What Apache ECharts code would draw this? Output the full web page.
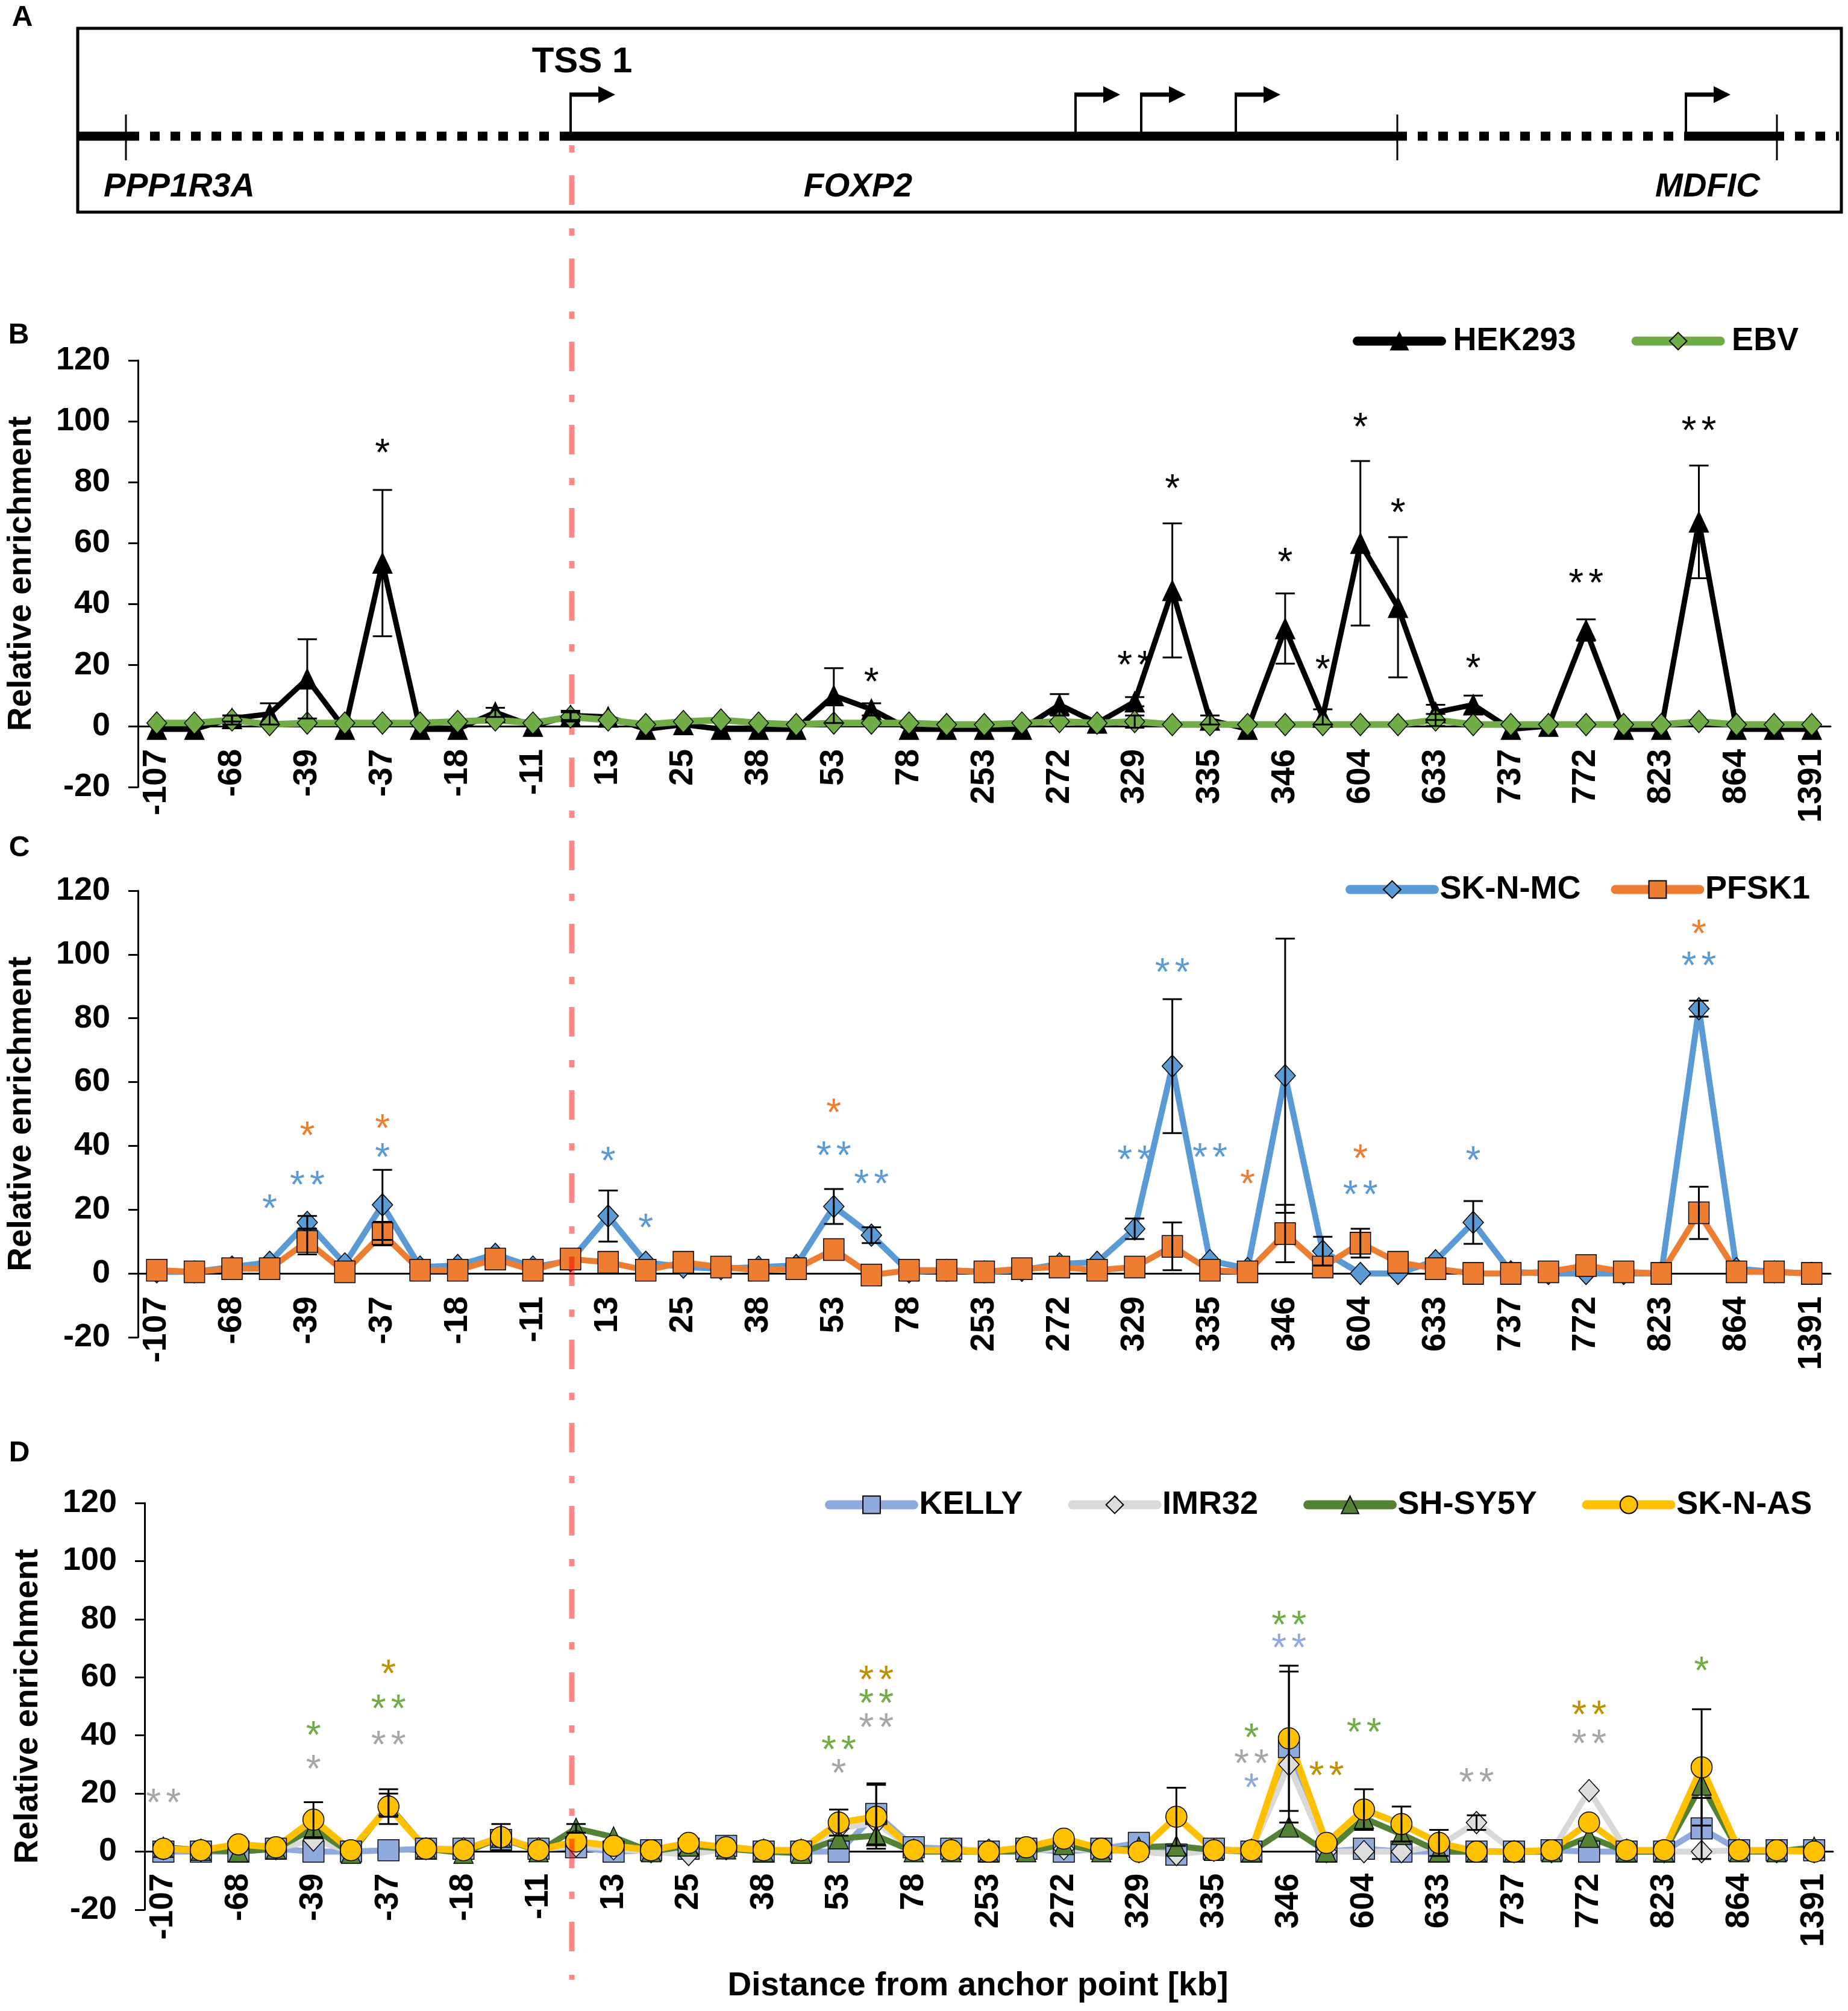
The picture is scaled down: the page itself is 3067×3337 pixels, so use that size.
<!DOCTYPE html>
<html>
<head>
<meta charset="utf-8">
<script src="https://cdn.jsdelivr.net/npm/echarts@6.0.0/dist/echarts.min.js"></script>
<style>
html, body { margin: 0; padding: 0; background: #fff; }
#chart { width: 3067px; height: 3337px; }
</style>
</head>
<body>
<div id="chart"></div>
<script>
// distance from anchor point [kb]; every other label is hidden on the axis
var categories = ['-107', '', '-68', '', '-39', '', '-37', '', '-18', '', '-11', '',
    '13', '', '25', '', '38', '', '53', '', '78', '', '253', '', '272', '', '329', '',
    '335', '', '346', '', '604', '', '633', '', '737', '', '772', '', '823', '', '864', '', '1391'];
var yTicks = { min: -20, max: 120, step: 20 };

// panel B
var hek293 = [-1, -1, 2.5, 4, 15.5, -1, 53.5, -1, -1, 4.5, 0, 3.5, 3, -1, 0.5, -1, -1, -1, 10, 5.5, -1,
    -1, -1, -1, 7, 1, 8, 44.5, 2, -1, 32, 3, 60, 39, 4.5, 7, -1, 0, 31.5, -1, -1, 67, -1, -1, -1];
var hek293Err = [0, 0, 1, 3.5, 13, 0, 24, 0, 0, 1.5, 0, 1.5, 0, 0, 0, 0, 0, 0, 9, 2, 0,
    0, 0, 0, 3.5, 0, 1.5, 22, 1.5, 0, 11.5, 2.5, 27, 23, 2.5, 3, 0, 0, 3.5, 0, 0, 18.5, 0, 0, 0];
var ebv = [1, 1, 2, 0.5, 1, 1, 1, 1, 1.5, 2, 1, 3, 2, 0.5, 1.5, 2, 1, 0.5, 1, 1, 1,
    0.5, 0.5, 1, 1.5, 1, 1.5, 0.5, 0.5, 0.5, 0.5, 0.5, 0.5, 0.5, 2, 0.5, 0.5, 0.5, 0.5, 0.5, 0.5, 1.5, 0.5, 0.5, 0.5];
var ebvErr = [0, 0, 1.5, 0, 0, 0, 0, 0, 0, 0, 0, 1.5, 0, 0, 0, 0, 0, 0, 0, 0, 0,
    0, 0, 0, 0, 0, 2, 0, 0, 0, 0, 0, 0, 0, 2, 0, 0, 0, 0, 0, 0, 0, 0, 0, 0];

// panel C
var sknmc = [0.5, 0.5, 2, 3.5, 16, 3, 21.5, 2, 2.5, 6, 2, 4, 18, 3.5, 2, 1.5, 2, 2.5, 21, 12, 0.5,
    1, 0.5, 1, 3, 3.5, 14, 65, 4, 1.5, 62, 7, 0, 0, 4, 16, 0.5, 0, 0, 0, 0, 83, 1.5, 0.5, 0];
var sknmcErr = [0, 0, 0, 0, 2, 0, 11, 0, 0, 0, 0, 0, 8, 0, 0, 0, 0, 0, 5.5, 2.5, 0,
    0, 0, 0, 0, 0, 3.2, 21, 0, 0, 43, 4.5, 0, 0, 0, 6.7, 0, 0, 0, 0, 0, 2.5, 0, 0, 0];
var pfsk1 = [1, 0.5, 1.5, 1.5, 10, 0.5, 12.5, 1, 1, 4.5, 1, 4.5, 3.5, 1, 3.5, 2, 1, 1.5, 7.5, -0.5, 1,
    1, 0.5, 1.5, 2, 1, 2, 8.5, 1, 0.5, 12.5, 2, 9.5, 3.5, 1.5, 0, 0, 0.5, 2.5, 0.5, 0, 19, 0.5, 0.5, 0];
var pfsk1Err = [0, 0, 0, 0, 4, 0, 3.7, 0, 0, 0, 0, 0, 0, 0, 0, 0, 0, 0, 0, 0, 0,
    0, 0, 0, 0, 0, 0, 7.5, 0, 0, 9, 0, 4.5, 0, 0, 0, 0, 0, 0, 0, 0, 8.2, 0, 0, 0];

// panel D
var kelly = [0, 0, 0, 1, 0, 0, 0.5, 1, 1, 4, 1, 1.5, 0, 0.5, 1, 2, 0, 0, 0, 13, 1.5,
    1, 0, 1, 0, 1, 3, -1, 1, 0, 36, 0, 1, 0, 0, 0, 0, 0.5, 0, 0, 0, 8, 0.5, 0.5, 0.5];
var kellyErr = [0, 0, 0, 0, 0, 0, 0, 0, 0, 0, 0, 0, 0, 0, 0, 0, 0, 0, 0, 10.5, 0,
    0, 0, 0, 0, 0, 0, 0, 0, 0, 26, 0, 0, 0, 0, 0, 0, 0, 0, 0, 0, 10.5, 0, 0, 0];
var imr32 = [1, 0.5, 1, 1, 4, 0, 16, 1, 1, 5, 1, 2, 1, 0, -1, 1, 0.5, 0.5, 8, 10, 0.5,
    0.5, 0.5, 0.5, 1, 0.5, 0, -1, 0.5, 0.5, 30, 0, 0, 0, 2, 10, 0, 0, 21, 0.5, 0, 0, 0.5, 0, 0];
var imr32Err = [0, 0, 0, 0, 0, 0, 4, 0, 0, 4.5, 0, 0, 0, 0, 0, 0, 0, 0, 0, 0, 0,
    0, 0, 0, 0, 0, 0, 0, 0, 0, 0, 0, 0, 0, 0, 2.5, 0, 0, 0, 0, 0, 0, 0, 0, 0];
var shsy5y = [1.5, 0.5, 0, 1, 8, -0.5, 16, 1, -0.5, 5, 0, 8, 5, 0, 2, 1, 0, -0.5, 4.5, 5.5, 0,
    0, 0, 0, 2.5, 0, 1.5, 2, 0.5, 0, 8.5, 0, 11.5, 6, 0, 0, 0, 0, 5, 0, 0, 23, 0, 0, 1.5];
var shsy5yErr = [0, 0, 0, 0, 0, 0, 0, 0, 0, 0, 0, 1.5, 0, 0, 0, 0, 0, 0, 0, 0, 0,
    0, 0, 0, 0, 0, 0, 0, 0, 0, 0, 0, 0, 0, 0, 0, 0, 0, 0, 0, 0, 0, 0, 0, 0];
var sknas = [1, 0.5, 2.5, 1.5, 11, 0.5, 15.5, 1, 0.5, 5, 0.5, 3.5, 2, 0.5, 3, 1.5, 0.5, 0.5, 10, 12, 0.5,
    0.5, 0, 1.5, 4.5, 1, 0, 12, 0.5, 0.5, 39, 3, 14.5, 9.5, 3, 0, 0, 0.5, 10, 0.5, 0.5, 29, 0.5, 0.5, 0];
var sknasErr = [0, 0, 0, 0, 6, 0, 6, 0, 0, 0, 0, 0, 0, 0, 0, 0, 0, 0, 4.5, 11, 0,
    0, 0, 0, 0, 0, 0, 10, 0, 0, 25, 0, 7, 6, 4.5, 0, 0, 0, 0, 0, 0, 20, 0, 0, 0];

// significance marks: [category index, height, number of asterisks]
var starsHek = [[6, 92, 1], [19, 17, 1], [26, 22.4, 2], [27, 80.4, 1], [30, 56.3, 1], [31, 21.1, 1],
    [32, 100.6, 1], [33, 72.5, 1], [35, 21.4, 1], [38, 49.4, 2], [41, 99.4, 2]];
var starsSknmc = [[3, 22.7, 1], [4, 30, 2], [6, 38.6, 1], [12, 37.6, 1], [13, 16.6, 1], [18, 39.3, 2],
    [19, 30.4, 2], [26, 38, 2], [27, 96.6, 2], [28, 38.6, 2], [32, 27, 2], [35, 37.8, 1], [41, 98.7, 2]];
var starsPfsk1 = [[4, 45.4, 1], [6, 47.8, 1], [18, 52.6, 1], [29, 30.4, 1], [32, 38.3, 1], [41, 108.7, 1]];
var starsKelly = [[29, 24.6, 1], [30, 72.7, 2]];
var starsImr32 = [[0, 19.3, 2], [4, 31, 1], [6, 39.2, 2], [18, 29.4, 1], [19, 45.2, 2], [29, 32.8, 2],
    [35, 26.4, 2], [38, 39.6, 2]];
var starsShsy5y = [[4, 42.6, 1], [6, 51.6, 2], [18, 37.5, 2], [19, 53.6, 2], [29, 41.8, 1], [30, 80.6, 2],
    [32, 43.5, 2], [41, 64.8, 1]];
var starsSknas = [[6, 63.7, 1], [19, 61.7, 2], [31, 28.7, 2], [38, 49.6, 2]];

var FONT = '"Liberation Sans", Arial, sans-serif';

var myChart = echarts.init(document.getElementById('chart'));

function errData(vals, errs) {
    var out = [];
    for (var i = 0; i < vals.length; i++) {
        if (errs[i] > 0) out.push([i, vals[i], errs[i]]);
    }
    return out;
}

function renderErr(params, api) {
    var i = api.value(0), v = api.value(1), e = api.value(2);
    var hi = api.coord([i, v + e]);
    var lo = api.coord([i, v - e]);
    var w = 16;
    return {
        type: 'group',
        children: [
            { type: 'line', shape: { x1: hi[0], y1: hi[1], x2: lo[0], y2: lo[1] }, style: { stroke: '#000', lineWidth: 3 } },
            { type: 'line', shape: { x1: hi[0] - w, y1: hi[1], x2: hi[0] + w, y2: hi[1] }, style: { stroke: '#000', lineWidth: 3 } },
            { type: 'line', shape: { x1: lo[0] - w, y1: lo[1], x2: lo[0] + w, y2: lo[1] }, style: { stroke: '#000', lineWidth: 3 } }
        ]
    };
}

function starRender(color) {
    return function (params, api) {
        var p = api.coord([api.value(0), api.value(1)]);
        var n = api.value(2);
        var kids = [];
        for (var k = 0; k < n; k++) {
            kids.push({
                type: 'text',
                x: p[0] + (k - (n - 1) / 2) * 33,
                y: p[1] + 16,
                style: { text: '*', fill: color, font: '64px ' + FONT, align: 'center', verticalAlign: 'middle' }
            });
        }
        return { type: 'group', children: kids };
    };
}

function lineSeries(name, g, data, color, lineColor, symbol, size, width) {
    return {
        name: name, type: 'line', xAxisIndex: g, yAxisIndex: g, data: data,
        symbol: symbol, symbolSize: size,
        lineStyle: { color: lineColor, width: width },
        itemStyle: { color: color, borderColor: '#000', borderWidth: 1.5 }
    };
}

function errSeries(g, vals, errs) {
    return { type: 'custom', xAxisIndex: g, yAxisIndex: g, data: errData(vals, errs), renderItem: renderErr, z: 5 };
}

function starSeries(g, data, color) {
    return { type: 'custom', xAxisIndex: g, yAxisIndex: g, data: data, renderItem: starRender(color), z: 6, clip: false };
}

// the category axis sits on y = 0, so shift it up from the grid bottom
function xAx(g, gridHeight, margin) {
    return {
        type: 'category', gridIndex: g, data: categories, boundaryGap: true,
        offset: -gridHeight * (0 - yTicks.min) / (yTicks.max - yTicks.min),
        axisLine: { onZero: false, lineStyle: { color: '#000', width: 3 } },
        axisTick: { interval: 0, length: 16, lineStyle: { color: '#000', width: 3 } },
        axisLabel: { interval: 1, rotate: 90, margin: margin, color: '#000', fontSize: 55, fontWeight: 'bold', fontFamily: FONT },
        splitLine: { show: false }
    };
}

function yAx(g) {
    return {
        type: 'value', gridIndex: g, min: yTicks.min, max: yTicks.max, interval: yTicks.step,
        name: 'Relative enrichment', nameLocation: 'middle', nameRotate: 90, nameGap: 166,
        nameTextStyle: { color: '#000', fontSize: 55, fontWeight: 'bold', fontFamily: FONT },
        axisLine: { show: true, lineStyle: { color: '#000', width: 3 } },
        axisTick: { show: true, length: 16, lineStyle: { color: '#000', width: 3 } },
        axisLabel: { margin: 46, color: '#000', fontSize: 54, fontWeight: 'bold', fontFamily: FONT },
        splitLine: { show: false }
    };
}

function legendAt(items, left, top, gap, pad) {
    return {
        data: items.map(function (it) {
            return { name: it[0], lineStyle: { color: it[1], width: 15, cap: 'round' } };
        }),
        left: left, top: top, itemGap: gap, itemWidth: 140, itemHeight: 36,
        textStyle: { color: '#000', fontSize: 54, fontWeight: 'bold', fontFamily: FONT, padding: [0, 0, 0, pad], lineHeight: 40 }
    };
}

// gene map of panel A
var geneY = 226;
var graphics = [
    { type: 'rect', shape: { x: 129, y: 47, width: 2927, height: 305 }, style: { fill: 'none', stroke: '#000', lineWidth: 5 } },
    { type: 'line', shape: { x1: 129, y1: geneY, x2: 215, y2: geneY }, style: { stroke: '#000', lineWidth: 15 } },
    { type: 'line', shape: { x1: 215, y1: geneY, x2: 943, y2: geneY }, style: { stroke: '#000', lineWidth: 15, lineDash: [16, 18] } },
    { type: 'line', shape: { x1: 943, y1: geneY, x2: 2319, y2: geneY }, style: { stroke: '#000', lineWidth: 15 } },
    { type: 'line', shape: { x1: 2319, y1: geneY, x2: 2798, y2: geneY }, style: { stroke: '#000', lineWidth: 15, lineDash: [16, 18] } },
    { type: 'line', shape: { x1: 2798, y1: geneY, x2: 2945, y2: geneY }, style: { stroke: '#000', lineWidth: 15 } },
    { type: 'line', shape: { x1: 2945, y1: geneY, x2: 3052, y2: geneY }, style: { stroke: '#000', lineWidth: 15, lineDash: [16, 18] } },
    { type: 'text', x: 966, y: 103, style: { text: 'TSS 1', font: 'bold 60px ' + FONT, fill: '#000', align: 'center', verticalAlign: 'middle' } },
    { type: 'text', x: 172, y: 311, style: { text: 'PPP1R3A', font: 'italic bold 55px ' + FONT, fill: '#000', align: 'left', verticalAlign: 'middle' } },
    { type: 'text', x: 1424, y: 311, style: { text: 'FOXP2', font: 'italic bold 55px ' + FONT, fill: '#000', align: 'center', verticalAlign: 'middle' } },
    { type: 'text', x: 2834, y: 311, style: { text: 'MDFIC', font: 'italic bold 55px ' + FONT, fill: '#000', align: 'center', verticalAlign: 'middle' } }
];
[209, 2319, 2949].forEach(function (x) {
    graphics.push({ type: 'line', shape: { x1: x, y1: 190, x2: x, y2: 266 }, style: { stroke: '#000', lineWidth: 3 } });
});
[947, 1785, 1894, 2051, 2798].forEach(function (x) {
    graphics.push({ type: 'line', shape: { x1: x, y1: geneY, x2: x, y2: 154 }, style: { stroke: '#000', lineWidth: 4 } });
    graphics.push({ type: 'line', shape: { x1: x - 2, y1: 157, x2: x + 48, y2: 157 }, style: { stroke: '#000', lineWidth: 7 } });
    graphics.push({ type: 'polygon', shape: { points: [[x + 46, 143], [x + 74, 157], [x + 46, 171]] }, style: { fill: '#000' } });
});
[['A', 37, 30], ['B', 31, 557], ['C', 32, 1408], ['D', 32, 2412]].forEach(function (p) {
    graphics.push({ type: 'text', x: p[1], y: p[2], style: { text: p[0], font: 'bold 48px ' + FONT, fill: '#000', align: 'center', verticalAlign: 'middle' } });
});
graphics.push({ type: 'text', x: 1623, y: 3296, style: { text: 'Distance from anchor point [kb]', font: 'bold 55px ' + FONT, fill: '#000', align: 'center', verticalAlign: 'middle' } });
// anchor point (TSS 1) marker through all panels
graphics.push({ type: 'line', z: 100, shape: { x1: 949, y1: 241, x2: 949, y2: 3285 }, style: { stroke: 'rgba(255,0,0,0.47)', lineWidth: 9, lineDash: [12, 38, 49, 39] } });

var option = {
    animation: false,
    backgroundColor: '#fff',
    grid: [
        { left: 226, top: 598, width: 2812, height: 708 },
        { left: 226, top: 1478, width: 2812, height: 741 },
        { left: 240, top: 2494, width: 2802, height: 675 }
    ],
    xAxis: [xAx(0, 708, 38), xAx(1, 741, 38), xAx(2, 675, 36)],
    yAxis: [yAx(0), yAx(1), yAx(2)],
    legend: [
        legendAt([['HEK293', '#000'], ['EBV', '#70AD47']], 2240, 534, 92, 14),
        legendAt([['SK-N-MC', '#5B9BD5'], ['PFSK1', '#ED7D31']], 2228, 1444, 50, 4),
        legendAt([['KELLY', '#8FAADC'], ['IMR32', '#D9D9D9'], ['SH-SY5Y', '#548235'], ['SK-N-AS', '#FFC000']], 1364, 2465, 75, 4)
    ],
    series: [
        lineSeries('HEK293', 0, hek293, '#000', '#000', 'triangle', [32, 34], 9),
        lineSeries('EBV', 0, ebv, '#70AD47', '#70AD47', 'diamond', [33, 37], 11),
        errSeries(0, hek293, hek293Err),
        errSeries(0, ebv, ebvErr),
        starSeries(0, starsHek, '#000'),

        lineSeries('SK-N-MC', 1, sknmc, '#5B9BD5', '#5B9BD5', 'diamond', [34, 37], 10),
        lineSeries('PFSK1', 1, pfsk1, '#ED7D31', '#ED7D31', 'rect', [34, 36], 10),
        errSeries(1, sknmc, sknmcErr),
        errSeries(1, pfsk1, pfsk1Err),
        starSeries(1, starsSknmc, '#5B9BD5'),
        starSeries(1, starsPfsk1, '#ED7D31'),

        lineSeries('KELLY', 2, kelly, '#8FAADC', '#8FAADC', 'rect', [35, 35], 10),
        lineSeries('IMR32', 2, imr32, '#DDDDDD', '#D9D9D9', 'diamond', [34, 37], 10),
        lineSeries('SH-SY5Y', 2, shsy5y, '#548235', '#548235', 'triangle', [32, 34], 10),
        lineSeries('SK-N-AS', 2, sknas, '#FFC000', '#FFC000', 'circle', 35, 11),
        errSeries(2, kelly, kellyErr),
        errSeries(2, imr32, imr32Err),
        errSeries(2, shsy5y, shsy5yErr),
        errSeries(2, sknas, sknasErr),
        starSeries(2, starsKelly, '#8FAADC'),
        starSeries(2, starsImr32, '#A6A6A6'),
        starSeries(2, starsShsy5y, '#70AD47'),
        starSeries(2, starsSknas, '#BF9000')
    ],
    graphic: graphics
};

myChart.setOption(option);
</script>
</body>
</html>
